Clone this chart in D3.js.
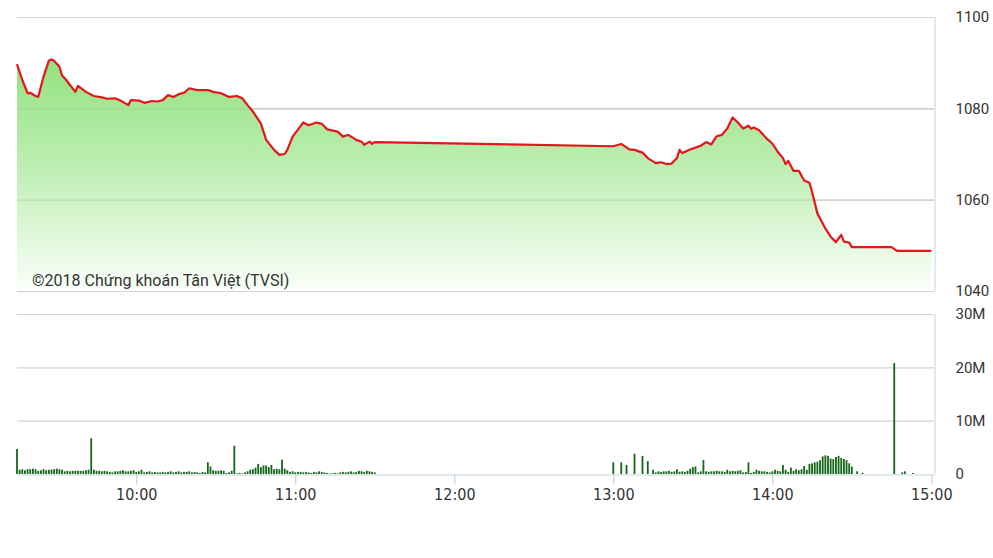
<!DOCTYPE html>
<html><head><meta charset="utf-8">
<script src="https://cdn.jsdelivr.net/npm/d3@7"></script>
<style>
html,body{margin:0;padding:0;background:#fff;}
svg{display:block;}
</style></head>
<body>
<svg id="chart" width="993" height="558"></svg>
<script>
// ---------- DATA ----------
const priceTimes = ["09:15","09:17","09:19","09:20","09:22","09:23","09:25","09:27","09:28","09:29","09:31","09:32","09:33","09:35","09:37","09:38","09:41","09:44","09:47","09:49","09:52","09:54","09:57","09:58","10:01","10:03","10:06","10:08","10:10","10:12","10:14","10:16","10:18","10:20","10:23","10:27","10:29","10:32","10:35","10:38","10:40","10:42","10:44","10:47","10:49","10:52","10:54","10:56","10:57","10:59","11:02","11:03","11:05","11:08","11:10","11:12","11:16","11:18","11:20","11:23","11:25","11:26","11:28","11:29","11:30","13:00","13:03","13:06","13:08","13:11","13:13","13:16","13:18","13:20","13:22","13:24","13:25","13:26","13:29","13:31","13:33","13:35","13:37","13:39","13:41","13:43","13:45","13:47","13:49","13:51","13:52","13:53","13:55","13:58","14:00","14:02","14:04","14:05","14:06","14:08","14:10","14:12","14:14","14:15","14:17","14:20","14:22","14:24","14:26","14:27","14:29","14:30","14:45","14:47","15:00"];
const priceValues = [1089.7,1086.2,1083.3,1083.4,1082.7,1082.5,1086.9,1090.4,1090.7,1090.4,1089.1,1087.2,1086.6,1085.1,1083.6,1084.9,1083.6,1082.7,1082.4,1082.1,1082.2,1081.7,1080.7,1081.8,1081.7,1081.2,1081.6,1081.5,1081.8,1082.9,1082.5,1083.1,1083.4,1084.4,1084.0,1084.0,1083.6,1083.3,1082.5,1082.7,1082.2,1080.7,1079.3,1076.7,1073.1,1070.9,1069.8,1070.0,1070.9,1073.8,1076.1,1076.9,1076.3,1076.9,1076.6,1075.4,1074.9,1073.8,1074.2,1073.1,1072.7,1072.0,1072.7,1072.2,1072.6,1071.7,1072.2,1071.0,1070.9,1070.3,1069.1,1068.0,1068.2,1067.8,1067.9,1069.1,1070.9,1070.2,1071.0,1071.4,1071.8,1072.6,1072.1,1073.9,1074.2,1075.6,1078.0,1076.9,1075.6,1076.2,1075.5,1075.8,1075.2,1073.3,1072.3,1070.5,1069.1,1067.8,1068.5,1066.3,1066.3,1064.2,1063.7,1061.7,1057.0,1053.7,1051.9,1050.7,1052.3,1050.8,1050.6,1049.6,1049.6,1048.8,1048.8];

// volume in millions, one value per minute
const morningStart = "09:15";
const morningVol = [
 4.7,0.8,0.9,0.7,0.9,0.9,1.0,0.9,0.6,0.7,
 0.9,0.7,0.8,0.8,0.9,1.0,0.9,0.8,0.5,0.6,
 0.5,0.6,0.6,0.6,0.6,0.6,0.7,0.8,6.7,0.8,
 0.6,0.6,0.5,0.6,0.5,0.4,0.3,0.5,0.5,0.6,
 0.7,0.5,0.5,0.6,0.7,0.4,0.5,0.8,0.3,0.4,
 0.5,0.3,0.4,0.3,0.3,0.4,0.3,0.4,0.5,0.3,
 0.4,0.5,0.3,0.4,0.4,0.5,0.3,0.4,0.3,0.2,
 0.4,0.3,2.2,1.4,0.7,0.6,0.6,0.7,0.6,0.2,
 0.3,0.6,5.3,0.1,0.2,0.1,0.3,0.5,0.8,0.9,
 1.2,1.9,1.3,1.6,1.6,1.3,1.7,0.9,1.0,0.9,
 2.7,1.0,0.7,0.4,0.5,0.3,0.4,0.4,0.3,0.4,
 0.3,0.2,0.4,0.3,0.5,0.4,0.3,0.2,0.1,0.1,
 0.2,0.1,0.3,0.4,0.3,0.4,0.5,0.3,0.4,0.6,
 0.5,0.4,0.6,0.5,0.4,0.3];
const afternoonStart = "13:00";
const afternoonVol = [
 2.2,0,0,2.2,0,1.7,0,0,3.8,0,
 0,3.4,0,2.4,0,0.8,0.3,0.5,0.4,0.5,
 0.5,0.6,0.4,0.5,0.9,0.4,0.5,0.4,0.6,1.0,
 1.3,1.4,0.3,0.5,2.6,0.5,0.4,0.5,0.5,0.6,
 0.5,0.5,0.4,0.8,0.5,0.6,0.5,0.6,0.7,0.3,
 0.4,2.2,0.2,0.4,0.8,0.6,0.5,0.5,0.4,0.3,
 0.5,0.8,0.6,0.5,1.7,0.8,0.4,1.2,0.6,0.9,
 0.7,0.9,1.5,0.8,1.9,2.0,2.2,2.3,2.6,3.3,
 3.5,3.4,2.9,2.8,3.2,3.4,3.0,2.8,2.6,2.0,
 1.4,0,0.5,0,0.2];
const atcTimes = ["14:46","14:49","14:50","14:53"];
const atcVol = [20.8,0.3,0.5,0.2];

const priceTicks = [1040,1060,1080,1100];
const volTicks = [0,10,20,30];
const volTickLabels = ["0","10M","20M","30M"];
const timeTicks = ["10:00","11:00","12:00","13:00","14:00","15:00"];
const watermark = "©2018 Chứng khoán Tân Việt (TVSI)";

// ---------- SETUP ----------
const parse = d3.timeParse("%H:%M");
const svg = d3.select("#chart");
const left = 17, right = 934;
const x = d3.scaleTime().domain([parse("09:15"), parse("15:01")]).range([left, right]);
const yP = d3.scaleLinear().domain([1040,1100]).range([291,17]);
const yV = d3.scaleLinear().domain([0,30]).range([474,314]);

const priceData = priceTimes.map((t,i)=>({t:parse(t), v:priceValues[i]}));
const volData = [];
morningVol.forEach((v,i)=>volData.push({t:d3.timeMinute.offset(parse(morningStart), i), v}));
afternoonVol.forEach((v,i)=>volData.push({t:d3.timeMinute.offset(parse(afternoonStart), i), v}));
atcTimes.forEach((t,i)=>volData.push({t:parse(t), v:atcVol[i]}));

// gradient
const defs = svg.append("defs");
const grad = defs.append("linearGradient").attr("id","g").attr("gradientUnits","userSpaceOnUse")
  .attr("x1",0).attr("x2",0).attr("y1",yP(1090)).attr("y2",yP(1040));
grad.append("stop").attr("offset","0%").attr("stop-color","#93e280");
grad.append("stop").attr("offset","45%").attr("stop-color","#bdeeb2");
grad.append("stop").attr("offset","100%").attr("stop-color","#fbfffa");

// price gridlines
svg.append("g").selectAll("line").data(priceTicks).join("line")
  .attr("x1",left).attr("x2",right).attr("y1",d=>yP(d)+0.5).attr("y2",d=>yP(d)+0.5)
  .attr("stroke","#d4d4d4").attr("stroke-width",1.2);

// area + line
const area = d3.area().x(d=>x(d.t)).y0(yP(1040)).y1(d=>yP(d.v));
svg.append("path").datum(priceData).attr("d",area).attr("fill","url(#g)");
// redraw gridlines faintly over area (visible through fill)
svg.append("g").selectAll("line").data(priceTicks.slice(1,3)).join("line")
  .attr("x1",left).attr("x2",right).attr("y1",d=>yP(d)+0.5).attr("y2",d=>yP(d)+0.5)
  .attr("stroke","#9fc99a").attr("stroke-opacity",0.45).attr("stroke-width",1.2);
const line = d3.line().x(d=>x(d.t)).y(d=>yP(d.v));
svg.append("path").datum(priceData).attr("d",line).attr("fill","none")
  .attr("stroke","#e4151b").attr("stroke-width",2.2).attr("stroke-linejoin","round");

// price axis (right)
const axP = svg.append("g").attr("transform",`translate(${right+0.5},0)`)
  .call(d3.axisRight(yP).tickValues(priceTicks).tickFormat(d3.format("d")).tickSize(0).tickSizeOuter(0).tickPadding(21));
axP.select(".domain").attr("stroke","#c5d3e0");
axP.selectAll("text").attr("font-family","Roboto, 'Liberation Sans', sans-serif").attr("font-size",15).attr("fill","#333");

// watermark
svg.append("text").attr("x",32).attr("y",286).text(watermark)
  .attr("font-family","Roboto, 'Liberation Sans', sans-serif").attr("font-size",16).attr("fill","#333");

// volume gridlines
svg.append("g").selectAll("line").data(volTicks.slice(1)).join("line")
  .attr("x1",left).attr("x2",right).attr("y1",d=>yV(d)+0.5).attr("y2",d=>yV(d)+0.5)
  .attr("stroke","#d4d4d4").attr("stroke-width",1.2);

// volume bars
svg.append("g").selectAll("rect").data(volData.filter(d=>d.v>0)).join("rect")
  .attr("x",d=>x(d.t)-0.9).attr("width",1.8)
  .attr("y",d=>yV(d.v)).attr("height",d=>yV(0)-yV(d.v))
  .attr("fill","#16661a");

// volume axis (right)
const axV = svg.append("g").attr("transform",`translate(${right+0.5},0)`)
  .call(d3.axisRight(yV).tickValues(volTicks).tickFormat((d,i)=>volTickLabels[i]).tickSize(0).tickSizeOuter(0).tickPadding(21));
axV.select(".domain").attr("stroke","#c5d3e0");
axV.selectAll("text").attr("font-family","Roboto, 'Liberation Sans', sans-serif").attr("font-size",15).attr("fill","#333");

// time axis
const axT = svg.append("g").attr("transform",`translate(0,${yV(0)+0.5})`)
  .call(d3.axisBottom(x).tickValues(timeTicks.map(parse)).tickFormat(d3.timeFormat("%H:%M")).tickSize(10).tickSizeOuter(0).tickPadding(4));
axT.select(".domain").attr("stroke","#c5d3e0");
axT.selectAll(".tick line").attr("stroke","#b9cadb");
axT.selectAll("text").attr("font-family","'Liberation Sans Narrow', 'DejaVu Sans Condensed', sans-serif").attr("font-size",16).attr("fill","#333");
</script>
</body></html>
